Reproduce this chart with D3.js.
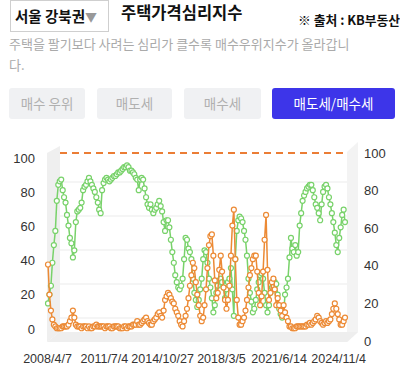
<!DOCTYPE html>
<html><head><meta charset="utf-8">
<script src="https://cdn.jsdelivr.net/npm/d3@7"></script>
<style>
html,body{margin:0;padding:0;background:#fff;}
svg{display:block;font-family:"Noto Sans CJK KR","Noto Sans",sans-serif;}
</style></head>
<body><svg id="c" width="400" height="383"></svg>
<script>
// ---- data (monthly samples, starting 2008/4/7) ----
const startDate = "2008-04-07";
const sellers = [15,20,25,38,48,56,73,82,84,85,79,75,72,65,59,52,49,41,45,61,67,68,69,72,79,81,82,84,86,84,82,80,78,75,72,68,66,79,83,85,86,85,84,85,86,87,87,88,89,89,90,91,92,92,93,92,90,90,89,88,86,85,79,85,86,85,80,75,71,69,71,68,66,68,69,71,73,70,67,61,56,62,62,58,51,44,38,31,27,24,23,25,29,40,52,51,46,44,40,29,21,17,13,17,23,29,40,45,44,38,29,24,18,10,14,21,25,28,29,27,24,18,23,27,29,35,23,8,40,56,62,64,63,61,56,51,42,29,21,16,10,12,17,23,27,31,32,29,21,14,10,14,21,24,25,27,26,20,12,9,7,10,20,24,29,41,52,46,44,48,42,44,59,66,73,76,78,80,81,82,82,79,75,71,69,66,62,71,78,81,82,80,75,71,66,61,55,48,44,52,58,65,68,61];
const buyers = [37,20,11,6,3,2,1,1,1,1,2,2,2,2,3,5,7,11,7,3,2,2,2,1,2,2,2,1,2,1,1,2,2,3,2,2,2,2,2,1,2,2,2,1,1,2,2,2,2,1,1,1,2,2,1,2,2,2,3,3,3,5,3,3,4,5,6,7,5,4,3,3,5,6,7,9,10,8,7,11,17,19,21,20,18,16,15,12,10,8,5,3,2,5,8,12,18,25,31,38,35,27,20,14,8,5,7,14,23,35,48,53,54,42,28,18,21,34,42,33,24,17,12,17,25,42,59,68,40,17,7,3,3,5,7,11,17,24,31,35,40,42,42,33,21,14,19,33,51,65,34,17,21,27,29,23,14,18,14,11,8,14,10,7,5,2,2,1,1,1,2,2,2,2,2,2,2,3,3,4,3,4,5,6,8,7,5,4,3,4,5,4,5,6,9,12,15,12,9,6,3,3,5,7];
const refLine = 100;
const xTickLabels = ["2008/4/7","2011/7/4","2014/10/27","2018/3/5","2021/6/14","2024/11/4"];
const yTicks = [0,20,40,60,80,100];
const buttons = ["매수 우위","매도세","매수세","매도세/매수세"];

const svg = d3.select("#c");
const parse = d3.timeParse("%Y-%m-%d");
const parseTick = d3.timeParse("%Y/%m/%d");
const t0 = parse(startDate);
const dates = sellers.map((_, i) => d3.timeMonth.offset(t0, i));

// ---- header ----
svg.append("rect").attr("x",10.5).attr("y",0.5).attr("width",98).attr("height",31)
  .attr("fill","#fff").attr("stroke","#cfcfcf");
const sel = svg.append("text").attr("x",15).attr("y",22).attr("font-size",14.5).attr("font-weight","bold").attr("fill","#111");
sel.append("tspan").text("서울 강북권");
sel.append("tspan").attr("fill","#999").attr("font-size",12).text("▼");
svg.append("text").attr("x",121).attr("y",19).attr("font-size",16.5).attr("font-weight","bold").attr("fill","#111").text("주택가격심리지수");
svg.append("text").attr("x",298).attr("y",25).attr("font-size",12.8).attr("font-weight","bold").attr("fill","#111").text("※ 출처 : KB부동산");
svg.append("text").attr("x",9).attr("y",49).attr("font-size",13).attr("fill","#aaa").text("주택을 팔기보다 사려는 심리가 클수록 매수우위지수가 올라갑니");
svg.append("text").attr("x",9).attr("y",70).attr("font-size",13).attr("fill","#aaa").text("다.");

// ---- buttons ----
const bx = [[9,76],[97,75],[184,77],[272,123]];
buttons.forEach((b,i)=>{
  const active = i===3;
  svg.append("rect").attr("x",bx[i][0]).attr("y",88).attr("width",bx[i][1]).attr("height",31).attr("rx",3)
    .attr("fill", active ? "#3d35e9" : "#f0f1f3");
  svg.append("text").attr("x",bx[i][0]+bx[i][1]/2).attr("y",109).attr("text-anchor","middle")
    .attr("font-size",13.5).attr("fill", active ? "#fff" : "#b0b0b0").text(b);
});

// ---- 3D-like frame ----
const g = svg.append("g");
g.append("rect").attr("x",60).attr("y",146).attr("width",287).attr("height",186).attr("fill","#fff");
g.append("polygon").attr("points","47,153 60,146 60,332 47,342").attr("fill","#efefef");
g.append("polygon").attr("points","347,152 358,142 358,332 347,342").attr("fill","#f3f3f3");
g.append("polygon").attr("points","47,342 60,332 358,332 347,342").attr("fill","#eeeeee");

// back-wall grid
const yBack = d3.scaleLinear().domain([0,100]).range([318,148]);
g.selectAll(".grid").data(yTicks.slice(0,5)).join("line")
  .attr("x1",60).attr("x2",347).attr("y1",d=>yBack(d)).attr("y2",d=>yBack(d))
  .attr("stroke","#ebebeb").attr("stroke-width",1);

// ---- scales ----
const x = d3.scaleTime().domain([t0, dates[dates.length-1]]).range([48,345]);
const yData = d3.scaleLinear().domain([0,100]).range([330,153]);
const yLeft = d3.scaleLinear().domain([0,100]).range([329,158]);
const yRight = d3.scaleLinear().domain([0,100]).range([341,153]);

// axes
const axL = svg.append("g").attr("transform","translate(35,0)")
  .call(d3.axisLeft(yLeft).tickValues(yTicks).tickSize(0).tickPadding(0));
const axR = svg.append("g").attr("transform","translate(364,0)")
  .call(d3.axisRight(yRight).tickValues(yTicks).tickSize(0).tickPadding(0));
const axX = svg.append("g").attr("transform","translate(-1,352)")
  .call(d3.axisBottom(x).tickValues(xTickLabels.map(s=>parseTick(s))).tickFormat(d3.timeFormat("%Y/%-m/%-d")).tickSize(0).tickPadding(0));
[axL,axR,axX].forEach(a=>{
  a.select(".domain").remove();
  a.selectAll("text").attr("font-family","'Liberation Sans',Arial,sans-serif").attr("font-size",13).attr("fill","#333");
});
axX.selectAll("text").attr("dy","0.71em").attr("y",2).attr("font-size",12.5);

// reference dashed line
svg.append("line").attr("x1",60).attr("x2",346).attr("y1",yData(refLine)).attr("y2",yData(refLine))
  .attr("stroke","#eb7d35").attr("stroke-width",2).attr("stroke-dasharray","7,5");

// series
function drawSeries(vals, color){
  const pts = vals.map((v,i)=>[dates[i], v]);
  svg.append("path").datum(pts)
    .attr("d", d3.line().x(d=>x(d[0])).y(d=>yData(d[1])))
    .attr("fill","none").attr("stroke",color).attr("stroke-width",1.5);
  svg.append("g").selectAll("circle").data(pts).join("circle")
    .attr("cx",d=>x(d[0])).attr("cy",d=>yData(d[1])).attr("r",2.5)
    .attr("fill","#fff").attr("stroke",color).attr("stroke-width",1.2);
}
drawSeries(sellers, "#78d26a");
drawSeries(buyers, "#ec8a35");
</script></body></html>
